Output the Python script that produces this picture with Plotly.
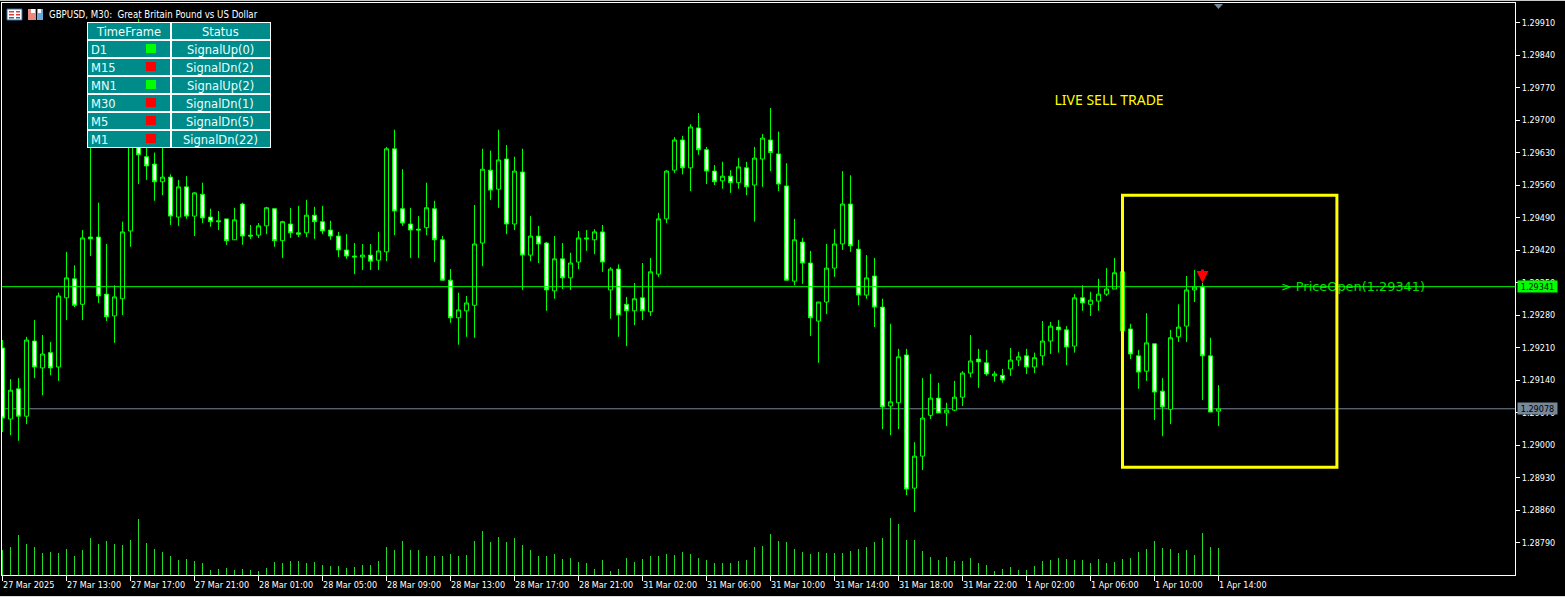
import plotly.graph_objects as go

# GBPUSD M30 prices, in points above 1.00000
open_pts = [29209,29056,29121,29062,29224,29166,29199,29168,29317,29358,
 29303,29448,29448,29325,29278,29315,29461,29668,29621,29605,
 29567,29577,29491,29556,29493,29540,29491,29483,29487,29442,
 29519,29452,29452,29472,29509,29440,29476,29457,29457,29495,
 29481,29463,29450,29420,29407,29405,29409,29398,29416,29638,
 29509,29476,29465,29468,29509,29442,29355,29274,29289,29301,
 29435,29592,29551,29616,29476,29588,29409,29450,29435,29332,
 29401,29360,29394,29446,29442,29459,29334,29379,29303,29289,
 29317,29287,29368,29487,29592,29657,29597,29683,29636,29590,
 29569,29579,29565,29597,29560,29616,29657,29627,29558,29353,
 29437,29392,29267,29308,29381,29433,29519,29422,29323,29364,
 29297,29084,29091,29194,28907,28976,29064,29101,29069,29075,
 29103,29155,29185,29177,29149,29150,29164,29183,29192,29168,
 29192,29224,29254,29248,29213,29317,29303,29310,29325,29336,
 29373,29250,29192,29159,29218,29116,29077,29233,29256,29334,
 29341,29192,29073]
high_pts = [29226,29142,29144,29233,29269,29237,29222,29328,29416,29387,
 29463,29657,29522,29433,29344,29481,29679,29918,29640,29630,
 29657,29583,29571,29579,29545,29565,29509,29504,29487,29511,
 29522,29474,29478,29513,29509,29483,29511,29515,29528,29513,
 29515,29483,29459,29454,29435,29433,29433,29459,29642,29679,
 29594,29511,29493,29565,29526,29450,29379,29328,29321,29517,
 29638,29634,29679,29646,29621,29638,29493,29472,29437,29450,
 29435,29414,29461,29463,29465,29474,29383,29389,29319,29349,
 29392,29403,29500,29592,29663,29666,29691,29715,29642,29603,
 29610,29592,29618,29610,29642,29670,29726,29675,29607,29487,
 29446,29418,29308,29433,29465,29590,29581,29442,29409,29403,
 29315,29261,29207,29207,29006,29144,29153,29134,29091,29138,
 29159,29237,29207,29205,29159,29164,29209,29201,29207,29199,
 29267,29265,29269,29256,29325,29344,29330,29358,29381,29403,
 29373,29261,29205,29284,29218,29144,29248,29303,29364,29377,
 29349,29231,29129]
low_pts = [29028,29021,29009,29045,29144,29107,29150,29138,29269,29297,
 29269,29407,29306,29267,29220,29280,29427,29562,29571,29526,
 29538,29474,29472,29487,29450,29478,29470,29463,29431,29442,
 29431,29444,29446,29454,29427,29403,29446,29448,29448,29444,
 29454,29442,29405,29401,29368,29377,29377,29377,29396,29452,
 29472,29403,29403,29452,29394,29355,29263,29216,29233,29231,
 29385,29528,29511,29454,29463,29334,29396,29392,29289,29315,
 29336,29334,29379,29418,29411,29373,29272,29233,29213,29258,
 29269,29278,29362,29478,29586,29583,29547,29625,29562,29560,
 29552,29543,29552,29538,29481,29556,29590,29547,29355,29344,
 29347,29235,29177,29282,29362,29420,29416,29301,29315,29254,
 29034,29021,29034,28892,28856,28946,29056,29069,29041,29073,
 29084,29146,29123,29149,29136,29134,29149,29170,29153,29155,
 29172,29196,29199,29172,29199,29289,29278,29289,29321,29336,
 29246,29185,29121,29138,29054,29019,29045,29222,29222,29308,
 29097,29071,29041]
close_pts = [29058,29118,29062,29226,29168,29196,29166,29321,29360,29301,
 29446,29444,29321,29276,29319,29459,29657,29625,29601,29567,
 29577,29493,29556,29493,29543,29489,29481,29481,29440,29485,
 29450,29450,29472,29511,29440,29481,29457,29454,29495,29481,
 29461,29450,29420,29407,29405,29409,29396,29418,29638,29504,
 29478,29463,29463,29511,29442,29355,29274,29291,29306,29433,
 29594,29549,29614,29476,29590,29409,29450,29433,29334,29401,
 29360,29392,29446,29444,29459,29394,29379,29280,29289,29315,
 29289,29373,29487,29590,29657,29597,29685,29636,29590,29567,
 29579,29565,29599,29556,29618,29661,29630,29562,29355,29442,
 29392,29274,29308,29381,29433,29519,29429,29323,29360,29297,
 29082,29093,29190,28905,28976,29058,29101,29069,29075,29103,
 29155,29181,29179,29153,29153,29140,29183,29190,29168,29188,
 29224,29256,29248,29211,29317,29306,29312,29325,29336,29371,
 29246,29196,29157,29220,29114,29082,29231,29254,29334,29340,
 29192,29071,29078]
volume = [25,28,40,31,28,22,23,22,26,19,25,37,31,34,31,30,35,56,32,26,23,
 19,15,16,14,12,5,6,7,5,6,5,4,7,13,12,14,14,12,13,10,9,9,7,8,10,10,14,28,25,34,
 25,25,19,19,19,21,19,20,34,44,33,38,33,37,
 30,25,19,19,21,16,17,13,12,6,15,4,6,17,13,16,19,19,21,20,23,21,17,15,12,12,12,14,15,28,
 29,41,34,33,26,23,21,23,22,22,22,24,26,28,33,37,57,51,35,35,24,18,15,18,14,14,17,12,10,4,
 6,8,5,5,9,14,15,17,16,15,15,12,16,12,13,16,17,23,26,34,27,26,22,25,20,42,28,27]

time_ticks = ["27 Mar 2025","27 Mar 13:00","27 Mar 17:00","27 Mar 21:00","28 Mar 01:00",
 "28 Mar 05:00","28 Mar 09:00","28 Mar 13:00","28 Mar 17:00","28 Mar 21:00","31 Mar 02:00",
 "31 Mar 06:00","31 Mar 10:00","31 Mar 14:00","31 Mar 18:00","31 Mar 22:00","1 Apr 02:00",
 "1 Apr 06:00","1 Apr 10:00","1 Apr 14:00"]
time_tick_bars = list(range(0, 153, 8))
price_ticks = [1.29910,1.29840,1.29770,1.29700,1.29630,1.29560,1.29490,1.29420,1.29350,
 1.29280,1.29210,1.29140,1.29070,1.29000,1.28930,1.28860,1.28790]

price_open = 1.29341
price_last = 1.29078
box_bars = [140, 166.8]
box_prices = [1.28952, 1.29538]
table_rows = [("D1","SignalUp(0)",True),("M15","SignalDn(2)",False),("MN1","SignalUp(2)",True),
              ("M30","SignalDn(1)",False),("M5","SignalDn(5)",False),("M1","SignalDn(22)",False)]

to_price = lambda a: [1 + v / 1e5 for v in a]
bars = list(range(len(open_pts)))
NARROW = "DejaVu Sans Condensed, Liberation Sans, sans-serif"
NSIZE = 9.0
DEJA = "DejaVu Sans, sans-serif"

W, H = 1565, 597
L, T, R, B = 2, 3, 1515, 575
px = lambda x: (x - L) / (R - L)
py = lambda y: 1 - (y - T) / (B - T)

fig = go.Figure()
fig.add_trace(go.Bar(x=bars, y=volume, yaxis="y2", width=0.12,
                     marker=dict(color="#28d828", line=dict(width=0))))
fig.add_trace(go.Candlestick(x=bars, open=to_price(open_pts), high=to_price(high_pts),
    low=to_price(low_pts), close=to_price(close_pts), whiskerwidth=0,
    increasing=dict(line=dict(color="#00ff00", width=1), fillcolor="#000000"),
    decreasing=dict(line=dict(color="#00ff00", width=1), fillcolor="#ffffff")))
fig.add_trace(go.Scatter(x=[159.8], y=[1.29338], mode="text", text=["&gt; PriceOpen(1.29341)"],
    textposition="middle right", textfont=dict(family=DEJA, size=12.9, color="#00e000")))
fig.add_trace(go.Scatter(x=[131.5], y=[1.29740], mode="text", text=["LIVE SELL TRADE"],
    textposition="middle right", textfont=dict(family="Noto Sans, sans-serif", size=14, color="#ffff00")))

shapes = []
def rect(x0, y0, x1, y1, fill, line=None, lw=0):
    shapes.append(dict(type="rect", xref="paper", yref="paper", x0=px(x0), x1=px(x1), y0=py(y0), y1=py(y1),
                       fillcolor=fill, line=dict(color=line or fill, width=lw), layer="above"))

shapes.append(dict(type="line", xref="paper", x0=0, x1=1, yref="y", y0=price_last, y1=price_last,
                   line=dict(color="#778899", width=1), layer="below"))
shapes.append(dict(type="line", xref="paper", x0=0, x1=1, yref="y", y0=price_open, y1=price_open,
                   line=dict(color="#00ff00", width=1), layer="above"))
shapes.append(dict(type="rect", xref="x", yref="y", x0=box_bars[0], x1=box_bars[1], y0=box_prices[0], y1=box_prices[1],
                   line=dict(color="#ffff00", width=3), layer="above"))
# current-bar marker at the top of the chart
shapes.append(dict(type="path", xref="paper", yref="paper",
    path=f"M {px(1214)} {py(4)} L {px(1223)} {py(4)} L {px(1218.5)} {py(9)} Z",
    fillcolor="#778899", line=dict(width=0), layer="above"))
# window edge rows
rect(0, 0, W, 1, "#c8c8c8")
rect(0, 596, W, 597, "#dcdcdc")
# title icons
rect(7, 9, 22, 20, "#ffffff", "#2a6ea8", 1)
rect(9, 11, 14, 12.5, "#d84040"); rect(16, 11, 20, 12.5, "#d84040")
rect(9, 14, 14, 15.5, "#d84040"); rect(16, 14, 20, 15.5, "#d84040")
rect(9, 17, 14, 18.5, "#2a6ea8"); rect(16, 17, 20, 18.5, "#2a6ea8")
rect(28, 9, 36, 20, "#e88880")
rect(31, 9, 35, 13, "#ffffff")
rect(37, 9, 43, 20, "#6aa8dc")
rect(38, 9, 41, 13, "#ffffff")
# signal table
rect(87, 22, 271, 148, "#ffffff")
rows_y = [23, 41, 59, 77, 95, 113, 131]
for yy in rows_y:
    rect(88, yy, 170, yy + 16, "#008b8b")
    rect(172, yy, 270, yy + 16, "#008b8b")

ann = []
def label(x, y, text, size=11.5, color="#ffffff", anchor="center", font=DEJA):
    ann.append(dict(xref="paper", yref="paper", x=px(x), y=py(y), text=text, showarrow=False,
                    xanchor=anchor, yanchor="middle", font=dict(family=font, size=size, color=color)))

label(128, 32, "TimeFrame", color="#e8ffff")
label(220.5, 32, "Status", color="#e8ffff")
for k, (tf, status, up) in enumerate(table_rows):
    yc = 50 + 18 * k
    label(89, yc, tf, anchor="left", color="#e8ffff")
    label(220, yc, status, color="#e8ffff")
    rect(146, yc - 6, 156, yc + 3, "#00ff00" if up else "#ff0000")

label(47, 15, "GBPUSD, M30:  Great Britain Pound vs US Dollar", size=9.6, anchor="left", font=NARROW)

for b, t in zip(time_tick_bars, time_ticks):
    ann.append(dict(xref="x", yref="paper", x=b, y=py(585), text=t, showarrow=False, xanchor="left",
                    yanchor="middle", xshift=-2, font=dict(family=NARROW, size=NSIZE, color="#ffffff")))
# price tags on the right scale
for price, tag, bg in [(price_open, "1.29341", "#00ff00"), (price_last, "1.29078", "#778899")]:
    ann.append(dict(xref="paper", yref="y", x=px(1517), y=price, text=tag, showarrow=False, xanchor="left",
                    yanchor="middle", bgcolor=bg, width=39, height=11, borderpad=0,
                    font=dict(family=NARROW, size=NSIZE, color="#000000")))
# sell arrow on the signal bar
ann.append(dict(xref="x", yref="y", x=150, y=1.29349, ax=0, ay=-15, showarrow=True, arrowhead=2,
                arrowsize=0.8, arrowwidth=3, arrowcolor="#ff0000", text=""))

fig.update_layout(
    width=W, height=H, margin=dict(l=L, r=W - R, t=T, b=H - B),
    paper_bgcolor="#000000", plot_bgcolor="#000000", showlegend=False, boxgap=0.5, boxgroupgap=0,
    bargap=0, shapes=shapes, annotations=ann,
    xaxis=dict(range=[(L - 2.5) / 8, (R - 2.5) / 8], rangeslider=dict(visible=False), showgrid=False,
               zeroline=False, showline=True, linecolor="#ffffff", linewidth=1, mirror=True,
               tickmode="array", tickvals=time_tick_bars, ticktext=[""] * len(time_tick_bars),
               ticks="outside", ticklen=5, tickcolor="#ffffff", tickwidth=1),
    yaxis=dict(side="right", range=[1.28720, 1.29952], showgrid=False, zeroline=False, showline=True,
               linecolor="#ffffff", linewidth=1, mirror=True, tickmode="array", tickvals=price_ticks,
               ticktext=[f"{p:.5f}" for p in price_ticks], ticks="outside", ticklen=4, tickcolor="#ffffff",
               tickwidth=1, tickfont=dict(family=NARROW, size=NSIZE, color="#ffffff")),
    yaxis2=dict(overlaying="y", side="right", range=[0, B - T], visible=False),
)
fig.write_html("out.html", config=dict(displayModeBar=False),
               post_script="document.body.style.margin='0';document.body.style.background='#000';")
